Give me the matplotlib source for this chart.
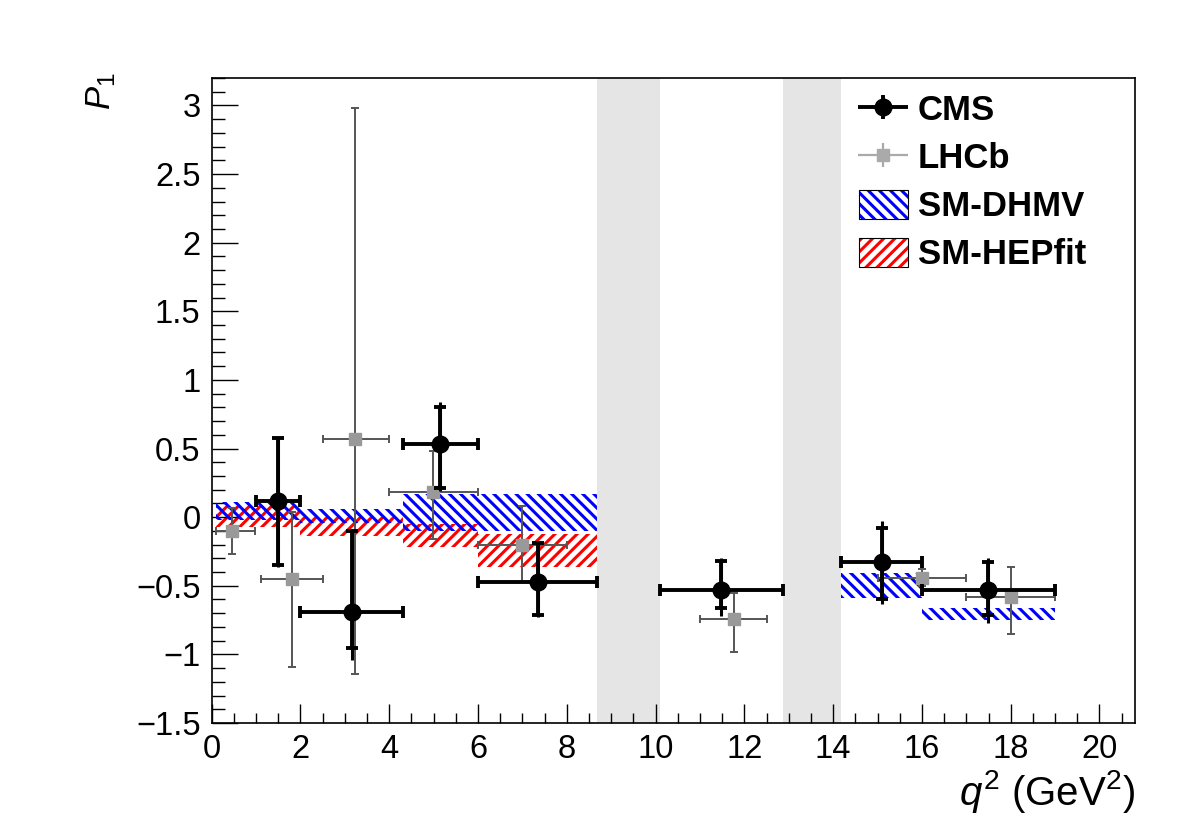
import numpy as np
import matplotlib
matplotlib.use('Agg')
import matplotlib.pyplot as plt
from matplotlib.patches import Patch
from matplotlib.ticker import FuncFormatter
from matplotlib.container import ErrorbarContainer
from matplotlib.legend_handler import HandlerErrorbar

plt.rcParams['font.family'] = ['Liberation Sans', 'DejaVu Sans']
plt.rcParams['mathtext.fontset'] = 'custom'
plt.rcParams['mathtext.it'] = 'Liberation Sans:italic'
plt.rcParams['mathtext.rm'] = 'Liberation Sans'
plt.rcParams['hatch.linewidth'] = 2.2

# ---- CMS (value, bin edges, inner/outer vertical error ends)
cms_x = [1.50, 3.15, 5.14, 7.36, 11.48, 15.09, 17.48]
cms_xlo = [1.0, 2.0, 4.3, 6.0, 10.09, 14.18, 16.0]
cms_xhi = [2.0, 4.3, 6.0, 8.68, 12.86, 16.0, 19.0]
cms_y = [0.12, -0.69, 0.53, -0.47, -0.53, -0.33, -0.53]
cms_in_up = [0.58, -0.10, 0.80, -0.19, -0.32, -0.08, -0.33]
cms_in_dn = [-0.35, -0.95, 0.21, -0.71, -0.66, -0.60, -0.71]
cms_tot_up = [0.58, -0.10, 0.84, -0.19, -0.30, -0.03, -0.30]
cms_tot_dn = [-0.36, -1.04, 0.19, -0.73, -0.72, -0.63, -0.77]

# ---- LHCb
lhcb_x = [0.45, 1.80, 3.23, 4.99, 7.00, 11.76, 16.00, 18.00]
lhcb_xlo = [0.1, 1.1, 2.5, 4.0, 6.0, 11.0, 15.0, 17.0]
lhcb_xhi = [0.98, 2.5, 4.0, 6.0, 8.0, 12.5, 17.0, 19.0]
lhcb_y = [-0.10, -0.45, 0.57, 0.18, -0.20, -0.74, -0.44, -0.58]
lhcb_up = [0.07, 0.04, 2.98, 0.48, 0.08, -0.55, -0.38, -0.36]
lhcb_dn = [-0.27, -1.09, -1.14, -0.16, -0.47, -0.98, -0.50, -0.85]

# ---- SM predictions (bin low, bin high, band low, band high)
dhmv_lo = [0.1, 2.0, 4.3, 14.18, 16.0]
dhmv_hi = [2.0, 4.3, 8.68, 16.0, 19.0]
dhmv_ymin = [-0.02, -0.04, -0.10, -0.59, -0.75]
dhmv_ymax = [0.11, 0.06, 0.17, -0.41, -0.66]

hep_lo = [0.1, 2.0, 4.3, 6.0]
hep_hi = [2.0, 4.3, 6.0, 8.68]
hep_ymin = [-0.07, -0.14, -0.22, -0.36]
hep_ymax = [0.08, 0.00, -0.05, -0.12]

vetoes = [(8.68, 10.09), (12.86, 14.18)]

cms_x = np.array(cms_x); cms_y = np.array(cms_y)
lhcb_x = np.array(lhcb_x); lhcb_y = np.array(lhcb_y)

fig = plt.figure(figsize=(11.96, 8.26), dpi=100)
ax = fig.add_axes([211.7/1196, (826-723)/826, 923.3/1196, 645/826])

for a, b in vetoes:
    ax.axvspan(a, b, color='#e5e5e5', lw=0, zorder=0)

ax.bar(hep_lo, np.array(hep_ymax)-np.array(hep_ymin), width=np.array(hep_hi)-np.array(hep_lo),
       bottom=hep_ymin, align='edge', facecolor='none', edgecolor='#ff0000', hatch='///', lw=0, zorder=1)
ax.bar(dhmv_lo, np.array(dhmv_ymax)-np.array(dhmv_ymin), width=np.array(dhmv_hi)-np.array(dhmv_lo),
       bottom=dhmv_ymin, align='edge', facecolor='none', edgecolor='#0000ff', hatch='\\\\\\', lw=0, zorder=2)

# LHCb
lx_err = [lhcb_x-np.array(lhcb_xlo), np.array(lhcb_xhi)-lhcb_x]
ly_err = [lhcb_y-np.array(lhcb_dn), np.array(lhcb_up)-lhcb_y]
ax.errorbar(lhcb_x, lhcb_y, xerr=lx_err, yerr=ly_err, fmt='s', color='#999999',
            ecolor='#555555', elinewidth=1.4, capsize=3, capthick=1.4,
            markersize=9, zorder=3)

# CMS
cx_err = [cms_x-np.array(cms_xlo), np.array(cms_xhi)-cms_x]
ci_err = [cms_y-np.array(cms_in_dn), np.array(cms_in_up)-cms_y]
ct_err = [cms_y-np.array(cms_tot_dn), np.array(cms_tot_up)-cms_y]
ax.errorbar(cms_x, cms_y, yerr=ct_err, fmt='none', ecolor='k', elinewidth=2.2, capsize=0, zorder=4)
ax.errorbar(cms_x, cms_y, xerr=cx_err, yerr=ci_err, fmt='o', color='k', ecolor='k',
            elinewidth=2.8, capsize=4, capthick=2.8, markersize=12, zorder=5)

# legend proxies (no caps, like the ROOT legend)
cms_h = ax.errorbar([np.nan], [np.nan], xerr=[1], yerr=[1], fmt='o', color='k',
                    elinewidth=2.8, markersize=12, capsize=0)
lhcb_h = ax.errorbar([np.nan], [np.nan], xerr=[1], yerr=[1], fmt='s', color='#aaaaaa',
                     ecolor='#aaaaaa', elinewidth=1.6, markersize=9, capsize=0)

ax.set_xlim(0, 20.8)
ax.set_ylim(-1.5, 3.2)
ax.set_xticks(np.arange(0, 20.1, 2))
ax.set_xticks(np.arange(0, 20.8, 0.5), minor=True)
ax.set_yticks(np.arange(-1.5, 3.01, 0.5))
ax.set_yticks(np.arange(-1.5, 3.21, 0.1), minor=True)
ax.yaxis.set_major_formatter(FuncFormatter(lambda v, p: ('%g' % round(v, 2)).replace('-', '\u2212')))
ax.xaxis.set_major_formatter(FuncFormatter(lambda v, p: '%g' % v))
ax.tick_params(axis='both', which='both', direction='in', top=False, right=False,
               width=1, labelsize=23.5, pad=8)
ax.tick_params(axis='y', which='major', length=19)
ax.tick_params(axis='y', which='minor', length=9)
ax.tick_params(axis='x', which='major', length=14)
ax.tick_params(axis='x', which='minor', length=7)
for s in ax.spines.values():
    s.set_linewidth(1.2)

ax.set_xlabel(r'$q^2$ (GeV$^2$)', loc='right', fontsize=29, labelpad=2)
fig.text(101/1196, 1-72/826, r'$P_1$', rotation=90, ha='center', va='top', fontsize=25)

h_dhmv = (Patch(facecolor='white', edgecolor='#0000ff', hatch='\\\\\\', lw=0),
          Patch(facecolor='none', edgecolor='black', lw=0.8))
h_hep = (Patch(facecolor='white', edgecolor='#ff0000', hatch='///', lw=0),
         Patch(facecolor='none', edgecolor='black', lw=0.8))
leg = ax.legend([cms_h, lhcb_h, h_dhmv, h_hep], ['CMS', 'LHCb', 'SM-DHMV', 'SM-HEPfit'],
                loc='upper left', bbox_to_anchor=(859/1196, 1-94/826), bbox_transform=fig.transFigure,
                frameon=False, borderpad=0, borderaxespad=0, handlelength=1.4, handleheight=0.9,
                handletextpad=0.3, labelspacing=0.42, prop={'weight': 'bold', 'size': 25},
                handler_map={ErrorbarContainer: HandlerErrorbar(xerr_size=0.72, yerr_size=0.35)})

fig.savefig('out.png', dpi=100)
